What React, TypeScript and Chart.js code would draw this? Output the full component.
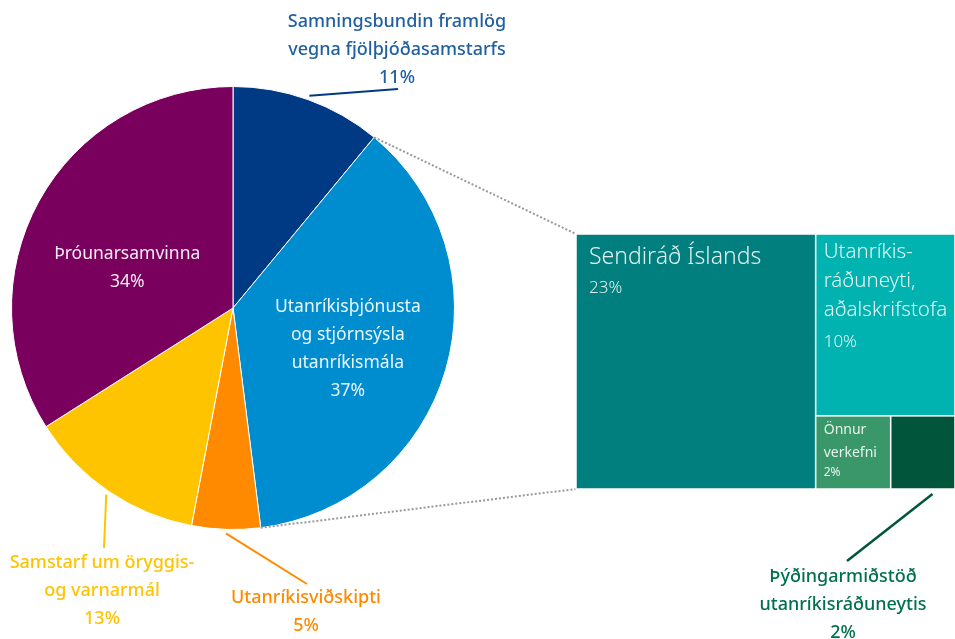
import React, { useEffect, useRef } from "react";
import { Chart, registerables } from "chart.js";
Chart.register(...registerables);

// ---- Pie data ----
const pieLabels = [
  "Samningsbundin framlög vegna fjölþjóðasamstarfs",
  "Utanríkisþjónusta og stjórnsýsla utanríkismála",
  "Utanríkisviðskipti",
  "Samstarf um öryggis- og varnarmál",
  "Þróunarsamvinna",
];
const pieLabelLines = [
  ["Samningsbundin framlög", "vegna fjölþjóðasamstarfs"],
  ["Utanríkisþjónusta", "og stjórnsýsla", "utanríkismála"],
  ["Utanríkisviðskipti"],
  ["Samstarf um öryggis-", "og varnarmál"],
  ["Þróunarsamvinna"],
];
const pieValues = [11, 37, 5, 13, 34];
const pieColors = ["#003a84", "#008dd0", "#ff8a00", "#ffc400", "#7a005e"];

// ---- Treemap data (breakdown of "Utanríkisþjónusta") ----
const treeLabels = [
  "Sendiráð Íslands",
  "Utanríkisráðuneyti, aðalskrifstofa",
  "Önnur verkefni",
  "Þýðingarmiðstöð utanríkisráðuneytis",
];
const treeLabelLines = [
  ["Sendiráð Íslands"],
  ["Utanríkis-", "ráðuneyti,", "aðalskrifstofa"],
  ["Önnur", "verkefni"],
  ["Þýðingarmiðstöð", "utanríkisráðuneytis"],
];
const treeValues = [23.4, 9.7, 2.1, 1.8];
const treeColors = ["#007f7e", "#00b3b0", "#3a976a", "#00553a"];

const FONT = "'Noto Sans', sans-serif";
const pieTotal = pieValues.reduce((a, b) => a + b, 0);
const pct = (v: number) => Math.round((v / pieTotal) * 100) + "%";

function font(size: number, weight = 400) {
  return `${weight} ${size}px ${FONT}`;
}

// pie label settings: inside labels (radius fraction + dy) or outside labels
const pieLabelCfg: any[] = [
  { outside: true, color: "#1f5fa3", tx: 397, ty: 22, lx: 398, ly: 89, lineColor: "#003a84" },
  { inside: true, r: 0.54, dy: 8 },
  { outside: true, color: "#ff8a00", tx: 306, ty: 598, lx: 307, ly: 584, lineColor: "#ff8a00" },
  { outside: true, color: "#ffc400", tx: 102, ty: 563, lx: 104, ly: 548, lineColor: "#ffc400" },
  { inside: true, r: 0.545, dy: 18 },
];

const pieLabelPlugin = {
  id: "pieLabels",
  afterDraw(chart: any) {
    const ctx = chart.ctx;
    const meta = chart.getDatasetMeta(0);
    ctx.save();
    ctx.textAlign = "center";
    ctx.textBaseline = "middle";
    meta.data.forEach((arc: any, i: number) => {
      const cfg = pieLabelCfg[i];
      const lines = [...pieLabelLines[i], pct(pieValues[i])];
      const mid = (arc.startAngle + arc.endAngle) / 2;
      const lh = 28;
      if (cfg.inside) {
        ctx.font = font(17.5);
        const cx = arc.x + Math.cos(mid) * arc.outerRadius * cfg.r;
        const cy = arc.y + Math.sin(mid) * arc.outerRadius * cfg.r + cfg.dy;
        const y0 = cy - ((lines.length - 1) * lh) / 2;
        ctx.fillStyle = "rgba(255,255,255,0.92)";
        lines.forEach((t, k) => ctx.fillText(t, cx, y0 + k * lh));
      } else {
        ctx.font = font(18, 500);
        const sr = arc.outerRadius + 4;
        ctx.strokeStyle = cfg.lineColor;
        ctx.lineWidth = 2;
        ctx.beginPath();
        ctx.moveTo(arc.x + Math.cos(mid) * sr, arc.y + Math.sin(mid) * sr);
        ctx.lineTo(cfg.lx, cfg.ly);
        ctx.stroke();
        ctx.fillStyle = cfg.color;
        lines.forEach((t, k) => ctx.fillText(t, cfg.tx, cfg.ty + k * lh));
      }
    });
    ctx.restore();
  },
};

// treemap rects in data units (x: 0..sum, y: 0..1)
function layoutTree(v: number[]) {
  const sum = v.reduce((a, b) => a + b, 0);
  const w = sum - v[0];
  const h = (v[2] + v[3]) / w;
  const split = v[0] + (w * v[2]) / (v[2] + v[3]);
  return [
    { x0: 0, x1: v[0], y0: 0, y1: 1 },
    { x0: v[0], x1: sum, y0: h, y1: 1 },
    { x0: v[0], x1: split, y0: 0, y1: h },
    { x0: split, x1: sum, y0: 0, y1: h },
  ];
}

const treeTextCfg: any[] = [
  { pad: 13, top: 23, size: 23, weight: 300, lh: 30, pSize: 17, pGap: 31 },
  { pad: 8, top: 18, size: 20.5, weight: 300, lh: 29, pSize: 17, pGap: 32 },
  { pad: 8, top: 14, size: 14, weight: 400, lh: 23, pSize: 12, pGap: 20 },
  { outside: true, color: "#00704f", tx: 843, ty: 577, lx: 847, ly: 561, lineColor: "#00553a" },
];

export default function App() {
  const pieRef = useRef<HTMLCanvasElement>(null);
  const treeRef = useRef<HTMLCanvasElement>(null);

  useEffect(() => {
    const pie = new Chart(pieRef.current as HTMLCanvasElement, {
      type: "pie",
      data: {
        labels: pieLabels,
        datasets: [
          { data: pieValues, backgroundColor: pieColors, borderColor: "#ffffff", borderWidth: 1 },
        ],
      },
      options: {
        responsive: false,
        animation: false,
        layout: { padding: { left: 11, right: 500, top: 86, bottom: 109 } },
        plugins: { legend: { display: false }, tooltip: { enabled: false } },
      },
      plugins: [pieLabelPlugin],
    } as any);

    const treemapPlugin = {
      id: "treemap",
      afterDatasetsDraw(chart: any) {
        const ctx = chart.ctx;
        const xs = chart.scales.x;
        const ys = chart.scales.y;
        const rects = layoutTree(treeValues).map((r) => ({
          left: xs.getPixelForValue(r.x0),
          right: xs.getPixelForValue(r.x1),
          top: ys.getPixelForValue(r.y1),
          bottom: ys.getPixelForValue(r.y0),
        }));
        ctx.save();
        // connectors from the pie slice
        const arc: any = pie.getDatasetMeta(0).data[1];
        const area = chart.chartArea;
        ctx.strokeStyle = "#999999";
        ctx.lineWidth = 2;
        ctx.setLineDash([2, 2]);
        ctx.beginPath();
        ctx.moveTo(arc.x + Math.cos(arc.startAngle) * arc.outerRadius, arc.y + Math.sin(arc.startAngle) * arc.outerRadius);
        ctx.lineTo(area.left, area.top);
        ctx.moveTo(arc.x + Math.cos(arc.endAngle) * arc.outerRadius, arc.y + Math.sin(arc.endAngle) * arc.outerRadius);
        ctx.lineTo(area.left, area.bottom);
        ctx.stroke();
        ctx.setLineDash([]);
        // rects
        rects.forEach((r, i) => {
          ctx.fillStyle = treeColors[i];
          ctx.fillRect(r.left, r.top, r.right - r.left, r.bottom - r.top);
          ctx.strokeStyle = "#ffffff";
          ctx.lineWidth = 1.5;
          ctx.strokeRect(r.left, r.top, r.right - r.left, r.bottom - r.top);
        });
        // labels
        ctx.textBaseline = "middle";
        rects.forEach((r, i) => {
          const cfg = treeTextCfg[i];
          const lines = treeLabelLines[i];
          const p = pct(treeValues[i]);
          if (cfg.outside) {
            ctx.strokeStyle = cfg.lineColor;
            ctx.lineWidth = 2.5;
            ctx.beginPath();
            ctx.moveTo((r.left + r.right) / 2 + 0.15 * (r.right - r.left), r.bottom + 5);
            ctx.lineTo(cfg.lx, cfg.ly);
            ctx.stroke();
            ctx.textAlign = "center";
            ctx.fillStyle = cfg.color;
            ctx.font = font(18, 500);
            [...lines, p].forEach((t, k) => ctx.fillText(t, cfg.tx, cfg.ty + k * 28));
          } else {
            ctx.textAlign = "left";
            ctx.fillStyle = "rgba(255,255,255,0.88)";
            ctx.font = font(cfg.size, cfg.weight);
            const x = r.left + cfg.pad;
            let y = r.top + cfg.top;
            lines.forEach((t: string, k: number) => ctx.fillText(t, x, y + k * cfg.lh));
            y = y + (lines.length - 1) * cfg.lh + cfg.pGap;
            ctx.font = font(cfg.pSize, cfg.weight);
            ctx.fillText(p, x, y);
          }
        });
        ctx.restore();
      },
    };

    const treeSum = treeValues.reduce((a, b) => a + b, 0);
    const tree = new Chart(treeRef.current as HTMLCanvasElement, {
      type: "scatter",
      data: { datasets: [{ data: [], pointRadius: 0 }] },
      options: {
        responsive: false,
        animation: false,
        layout: { padding: { left: 576, right: 0, top: 234, bottom: 150 } },
        scales: {
          x: { type: "linear", min: 0, max: treeSum, display: false },
          y: { type: "linear", min: 0, max: 1, display: false },
        },
        plugins: { legend: { display: false }, tooltip: { enabled: false } },
      },
      plugins: [treemapPlugin],
    } as any);

    return () => {
      tree.destroy();
      pie.destroy();
    };
  }, []);

  const canvasStyle: React.CSSProperties = { position: "absolute", left: 0, top: 0, width: 955, height: 639 };
  return (
    <div style={{ position: "fixed", left: 0, top: 0, width: 955, height: 639, background: "#ffffff" }}>
      <canvas ref={pieRef} width={955} height={639} style={canvasStyle} />
      <canvas ref={treeRef} width={955} height={639} style={canvasStyle} />
    </div>
  );
}
